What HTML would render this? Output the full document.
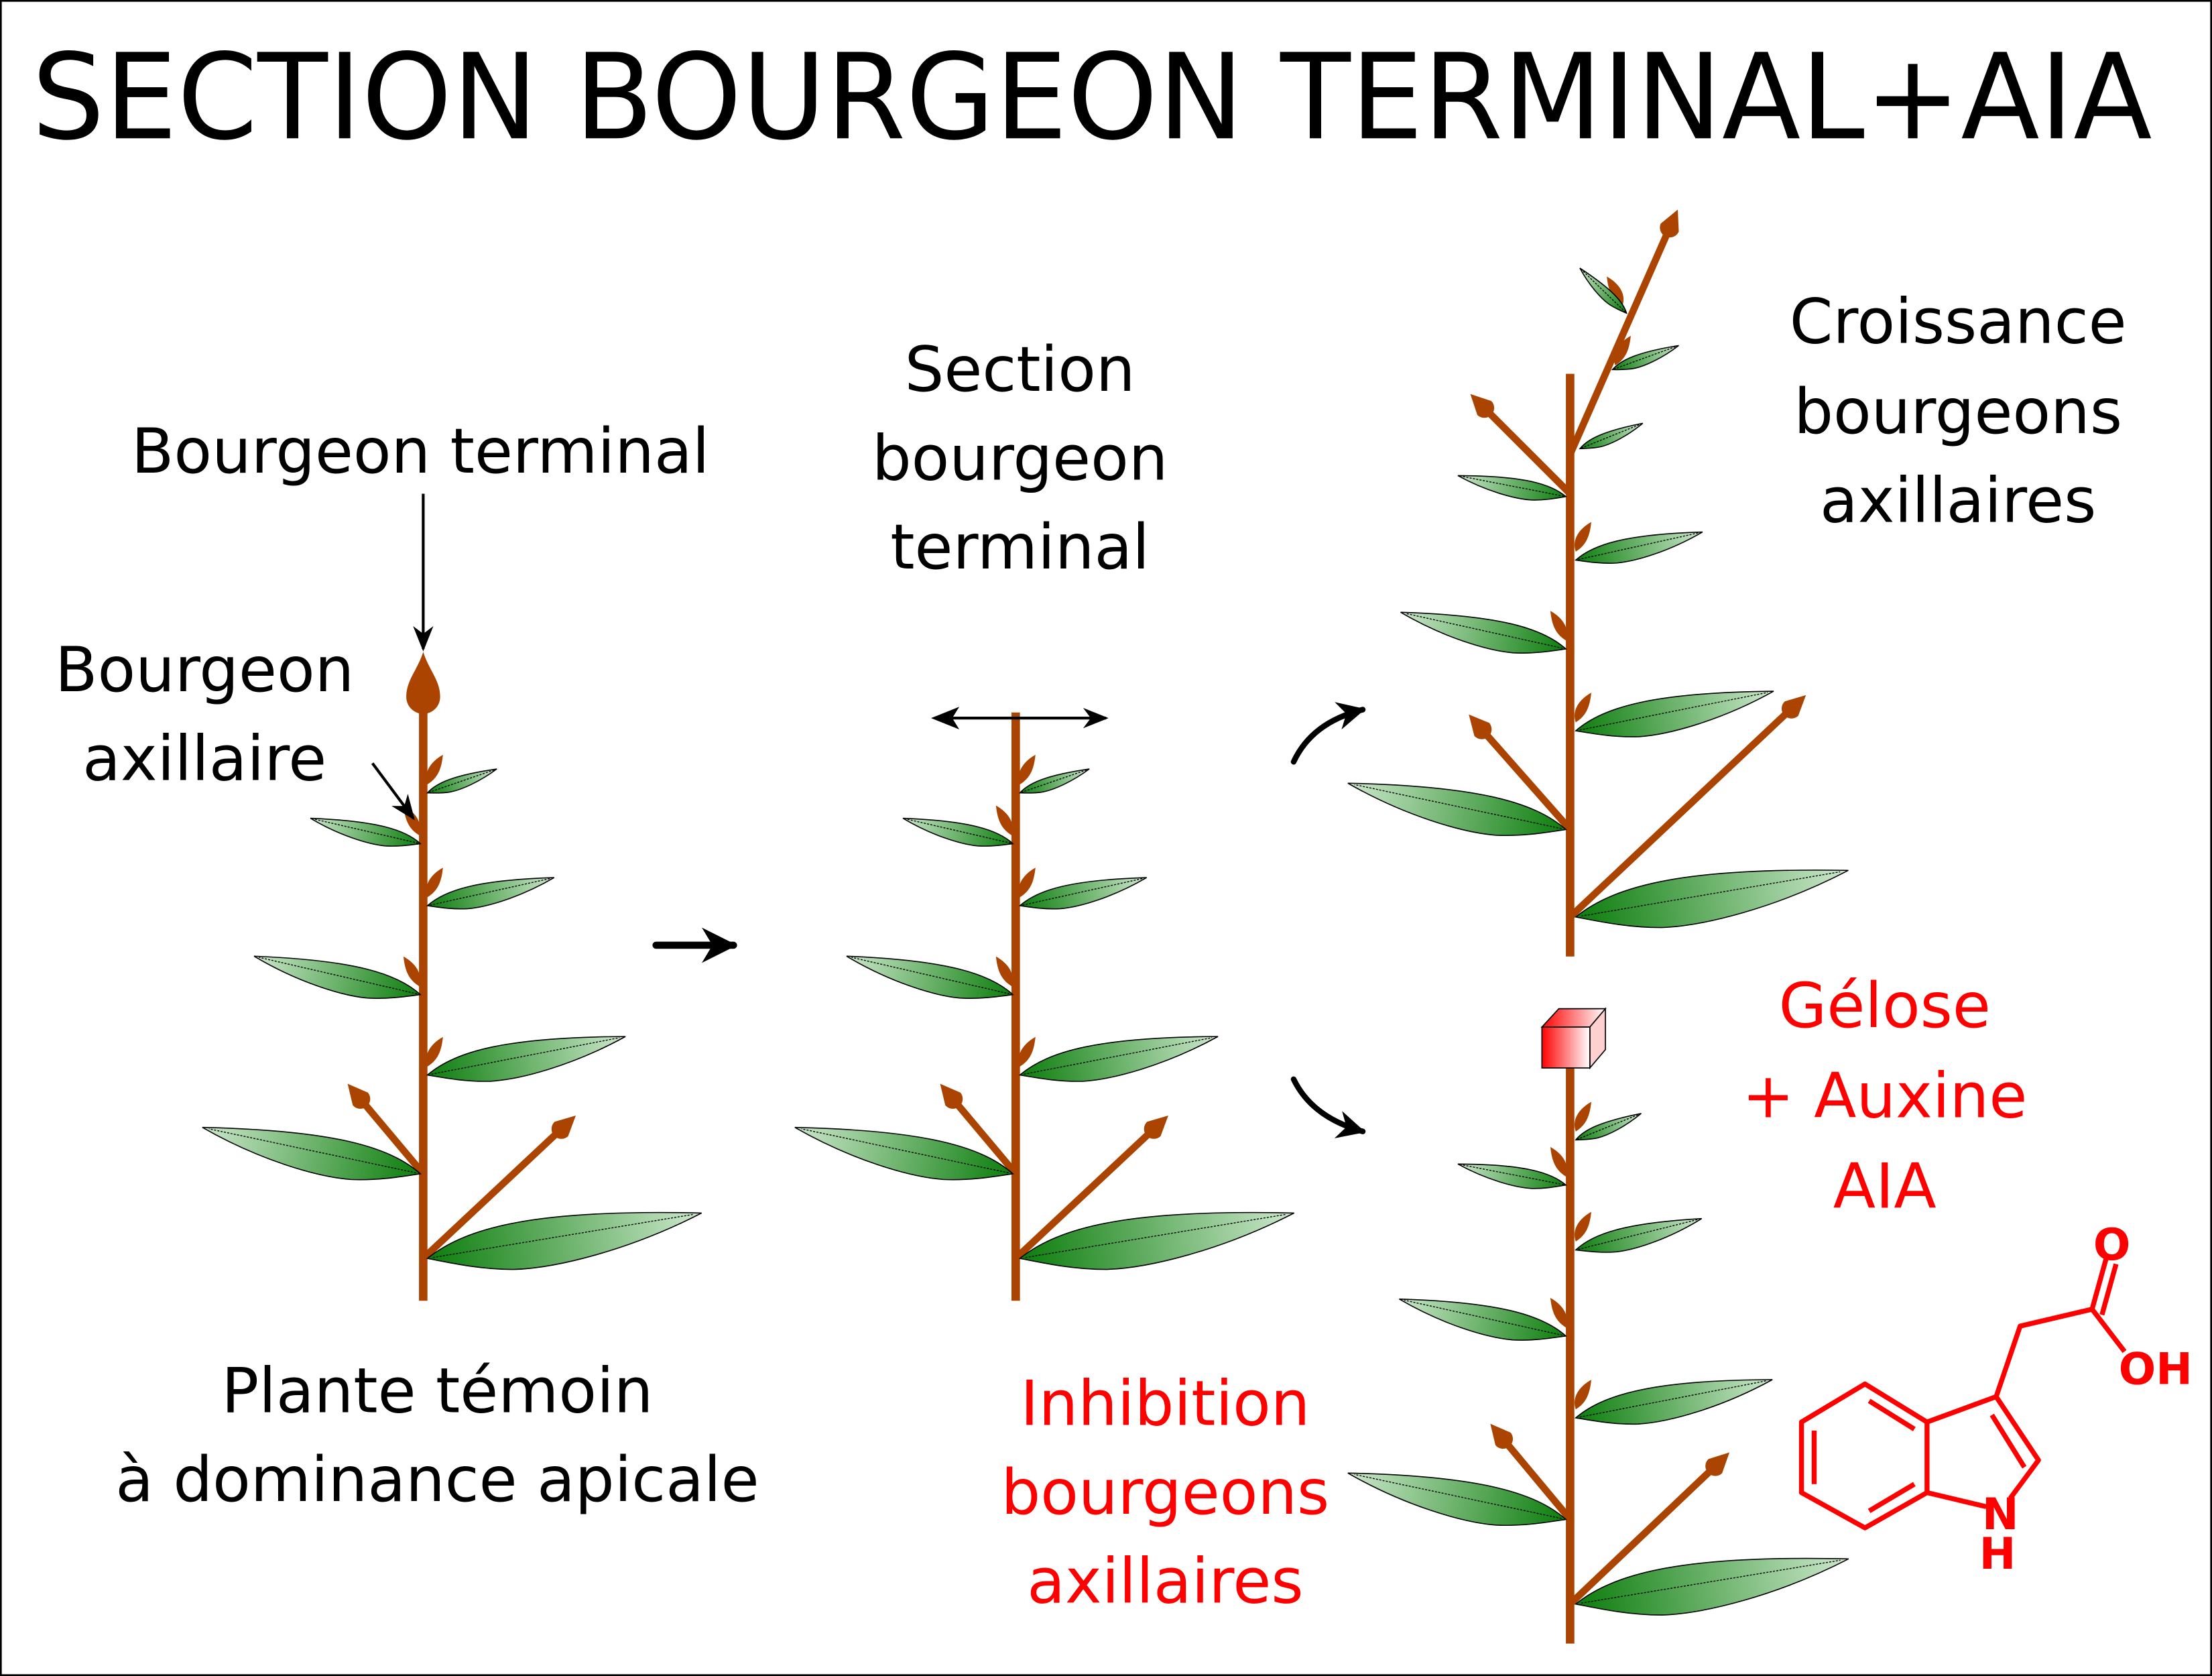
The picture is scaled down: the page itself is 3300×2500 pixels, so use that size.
<!DOCTYPE html>
<html><head><meta charset="utf-8"><style>
html,body{margin:0;padding:0;background:#fff}
svg{display:block}
text{font-family:"DejaVu Sans","Liberation Sans",sans-serif}
</style></head><body>
<svg width="3300" height="2500" viewBox="0 0 1568 1188" preserveAspectRatio="none" xmlns="http://www.w3.org/2000/svg">
<defs>
<linearGradient id="g" x1="0" y1="0" x2="1" y2="0">
<stop offset="0" stop-color="#0b7d0b"/><stop offset="1" stop-color="#cde8cd"/>
</linearGradient>
<linearGradient id="cg" x1="0" y1="0" x2="1" y2="0">
<stop offset="0" stop-color="#ff0000"/><stop offset="1" stop-color="#ffffff"/>
</linearGradient>
<path id="leaf" d="M0,0 C16,-9 42,-11 100,0 C72,9 45,11 30,9 C18,7 8,3 0,0 Z" fill="url(#g)" stroke="#000" stroke-width="1.6" vector-effect="non-scaling-stroke"/>
<g id="lf"><use href="#leaf"/><path d="M2,0 L97,0" stroke="#000" stroke-width="1.4" stroke-dasharray="3,2" vector-effect="non-scaling-stroke" fill="none"/></g>
<path id="bud" d="M18,0 L4,-7 A7,7 0 1 0 4,7 Z" fill="#aa4400"/>
<path id="ax" d="M0,4 C-3,-4 2,-12 11,-17 C10,-8 8,-1 0,4 Z" fill="#aa4400"/>
<marker id="ah" viewBox="0 0 10 10" refX="9" refY="5" markerWidth="5" markerHeight="5" orient="auto" markerUnits="strokeWidth">
<path d="M0,0 L10,5 L0,10 L3,5 Z" fill="#000"/></marker>
<marker id="ahs" viewBox="0 0 10 10" refX="9" refY="5" markerWidth="9" markerHeight="9" orient="auto" markerUnits="strokeWidth">
<path d="M0,1 L10,5 L0,9 L3,5 Z" fill="#000"/></marker>
<g id="plant">
<line x1="300" y1="505" x2="300" y2="922" stroke="#aa4400" stroke-width="6"/>
<line x1="300" y1="832" x2="258" y2="782" stroke="#aa4400" stroke-width="5"/>
<use href="#bud" transform="translate(258,782) rotate(-130)"/>
<line x1="300" y1="892" x2="395" y2="803" stroke="#aa4400" stroke-width="5"/>
<use href="#bud" transform="translate(395,803) rotate(-43)"/>
<use href="#ax" transform="translate(303,552)"/>
<use href="#ax" transform="translate(297,588) scale(-1,1)"/>
<use href="#ax" transform="translate(303,632)"/>
<use href="#ax" transform="translate(297,695) scale(-1,1)"/>
<use href="#ax" transform="translate(303,752)"/>
<use href="#lf" transform="translate(303,562) rotate(-19) scale(.52)"/>
<use href="#lf" transform="translate(298,598) rotate(-167) scale(.80,-.80)"/>
<use href="#lf" transform="translate(303,642) rotate(-12.5) scale(.92)"/>
<use href="#lf" transform="translate(298,705) rotate(-167) scale(1.21,-1.21)"/>
<use href="#lf" transform="translate(303,762) rotate(-11) scale(1.43)"/>
<use href="#lf" transform="translate(298,832) rotate(-168) scale(1.58,-1.58)"/>
<use href="#lf" transform="translate(303,892) rotate(-9.4) scale(1.97)"/>
</g>
</defs>
<rect x="0.5" y="0.5" width="1567" height="1187" fill="#fff" stroke="#000" stroke-width="1.5"/>
<text x="774" y="98" font-size="84" text-anchor="middle" textLength="1503" lengthAdjust="spacingAndGlyphs">SECTION BOURGEON TERMINAL+AIA</text>

<!-- plant 1 -->
<use href="#plant"/>
<path d="M300,462 C296,475 288,482 288,494 A12,12 0 0 0 312,494 C312,482 304,475 300,462 Z" fill="#aa4400"/>
<line x1="300" y1="350" x2="300" y2="460" stroke="#000" stroke-width="2" marker-end="url(#ahs)"/>
<line x1="264" y1="541" x2="293" y2="580" stroke="#000" stroke-width="2" marker-end="url(#ahs)"/>
<g font-size="44" text-anchor="middle" fill="#000">
<text x="298" y="335">Bourgeon terminal</text>
<text x="145" y="490">Bourgeon</text>
<text x="145" y="553">axillaire</text>
<text x="310" y="1001">Plante témoin</text>
<text x="310" y="1064">à dominance apicale</text>
<text x="723" y="277">Section</text>
<text x="723" y="340">bourgeon</text>
<text x="723" y="403">terminal</text>
<text x="1388" y="243">Croissance</text>
<text x="1388" y="307">bourgeons</text>
<text x="1388" y="370">axillaires</text>
</g>
<g font-size="44" text-anchor="middle" fill="#ff0000">
<text x="826" y="1010">Inhibition</text>
<text x="826" y="1073">bourgeons</text>
<text x="826" y="1136">axillaires</text>
<text x="1336" y="728">Gélose</text>
<text x="1336" y="792">+ Auxine</text>
<text x="1336" y="856">AIA</text>
</g>

<!-- arrows -->
<line x1="465" y1="670" x2="520" y2="670" stroke="#000" stroke-width="5" stroke-linecap="round" marker-end="url(#ah)"/>
<path d="M917,540 Q930,512 966,503" fill="none" stroke="#000" stroke-width="4" stroke-linecap="round" marker-end="url(#ah)"/>
<path d="M917,765 Q930,792 966,802" fill="none" stroke="#000" stroke-width="4" stroke-linecap="round" marker-end="url(#ah)"/>

<!-- plant 2 -->
<g transform="translate(420,0)"><use href="#plant"/></g>
<line x1="664" y1="509" x2="784" y2="509" stroke="#000" stroke-width="2" marker-end="url(#ahs)"/>
<path d="M660,509 L680,501 L675,509 L680,517 Z" fill="#000"/>

<!-- plant 3 -->
<g>
<line x1="1113" y1="265" x2="1113" y2="678" stroke="#aa4400" stroke-width="6"/>
<line x1="1113" y1="322" x2="1182" y2="165" stroke="#aa4400" stroke-width="5"/>
<use href="#bud" transform="translate(1182,165) rotate(-66)"/>
<line x1="1113" y1="350" x2="1055" y2="292" stroke="#aa4400" stroke-width="5"/>
<use href="#bud" transform="translate(1055,292) rotate(-135)"/>
<line x1="1113" y1="588" x2="1053" y2="520" stroke="#aa4400" stroke-width="5"/>
<use href="#bud" transform="translate(1053,520) rotate(-131)"/>
<line x1="1113" y1="650" x2="1267" y2="505" stroke="#aa4400" stroke-width="5"/>
<use href="#bud" transform="translate(1267,505) rotate(-43)"/>
<use href="#ax" transform="translate(1150,213) scale(-1,1)"/>
<use href="#ax" transform="translate(1145,255)"/>
<use href="#ax" transform="translate(1117,387)"/>
<use href="#ax" transform="translate(1110,450) scale(-1,1)"/>
<use href="#ax" transform="translate(1117,508)"/>
<use href="#lf" transform="translate(1153,222) rotate(-136) scale(.46,-.46)"/>
<use href="#lf" transform="translate(1143,262) rotate(-20) scale(.5)"/>
<use href="#lf" transform="translate(1120,318) rotate(-22) scale(.48)"/>
<use href="#lf" transform="translate(1110,352) rotate(-169) scale(.78,-.78)"/>
<use href="#lf" transform="translate(1117,397) rotate(-12.5) scale(.92)"/>
<use href="#lf" transform="translate(1110,460) rotate(-167.5) scale(1.2,-1.2)"/>
<use href="#lf" transform="translate(1117,518) rotate(-11.3) scale(1.43)"/>
<use href="#lf" transform="translate(1110,588) rotate(-168) scale(1.58,-1.58)"/>
<use href="#lf" transform="translate(1117,650) rotate(-9.7) scale(1.96)"/>
</g>

<!-- plant 4 -->
<g>
<line x1="1113" y1="757" x2="1113" y2="1165" stroke="#aa4400" stroke-width="6"/>
<line x1="1113" y1="1077" x2="1068" y2="1023" stroke="#aa4400" stroke-width="5"/>
<use href="#bud" transform="translate(1068,1023) rotate(-130)"/>
<line x1="1113" y1="1137" x2="1213" y2="1042" stroke="#aa4400" stroke-width="5"/>
<use href="#bud" transform="translate(1213,1042) rotate(-44)"/>
<use href="#ax" transform="translate(1117,798)"/>
<use href="#ax" transform="translate(1110,830) scale(-1,1)"/>
<use href="#ax" transform="translate(1117,876)"/>
<use href="#ax" transform="translate(1110,937) scale(-1,1)"/>
<use href="#ax" transform="translate(1117,995)"/>
<use href="#lf" transform="translate(1117,808) rotate(-22) scale(.5)"/>
<use href="#lf" transform="translate(1110,840) rotate(-169) scale(.78,-.78)"/>
<use href="#lf" transform="translate(1117,886) rotate(-14) scale(.92)"/>
<use href="#lf" transform="translate(1110,947) rotate(-167.5) scale(1.21,-1.21)"/>
<use href="#lf" transform="translate(1117,1005) rotate(-11) scale(1.42)"/>
<use href="#lf" transform="translate(1110,1077) rotate(-168) scale(1.58,-1.58)"/>
<use href="#lf" transform="translate(1117,1137) rotate(-9.4) scale(1.96)"/>
<!-- cube -->
<path d="M1093,728 L1105,715 L1138,715 L1127,728 Z" fill="url(#cg)" stroke="#000" stroke-width=".8"/>
<path d="M1127,728 L1138,715 L1138,744 L1127,757 Z" fill="#ffd0d0" stroke="#000" stroke-width=".8"/>
<rect x="1093" y="728" width="34" height="29" fill="url(#cg)" stroke="#000" stroke-width=".8"/>
</g>

<!-- IAA molecule -->
<g stroke="#ff0000" stroke-width="3.5" fill="none" stroke-linejoin="round">
<path d="M1322,981 L1366,1008 L1366,1058 L1322,1083 L1277,1058 L1277,1008 Z"/>
<path d="M1286,1014 L1286,1052 M1325,993 L1357,1013 M1325,1071 L1357,1052"/>
<path d="M1366,1008 L1415,990 L1445,1035 L1425,1062 M1408,1068 L1366,1058"/>
<path d="M1412,1003 L1435,1040"/>
<path d="M1415,990 L1432,940 L1483,928 L1506,958"/>
<path d="M1483,928 L1493,892 M1490,932 L1500,896"/>
</g>
<g fill="#ff0000" font-size="31" font-weight="bold" text-anchor="middle" style="font-family:'Liberation Sans',sans-serif">
<text x="1497" y="893">O</text>
<text x="1528" y="981">OH</text>
<text x="1418" y="1084">N</text>
<text x="1416" y="1112">H</text>
</g>
</svg>
</body></html>
